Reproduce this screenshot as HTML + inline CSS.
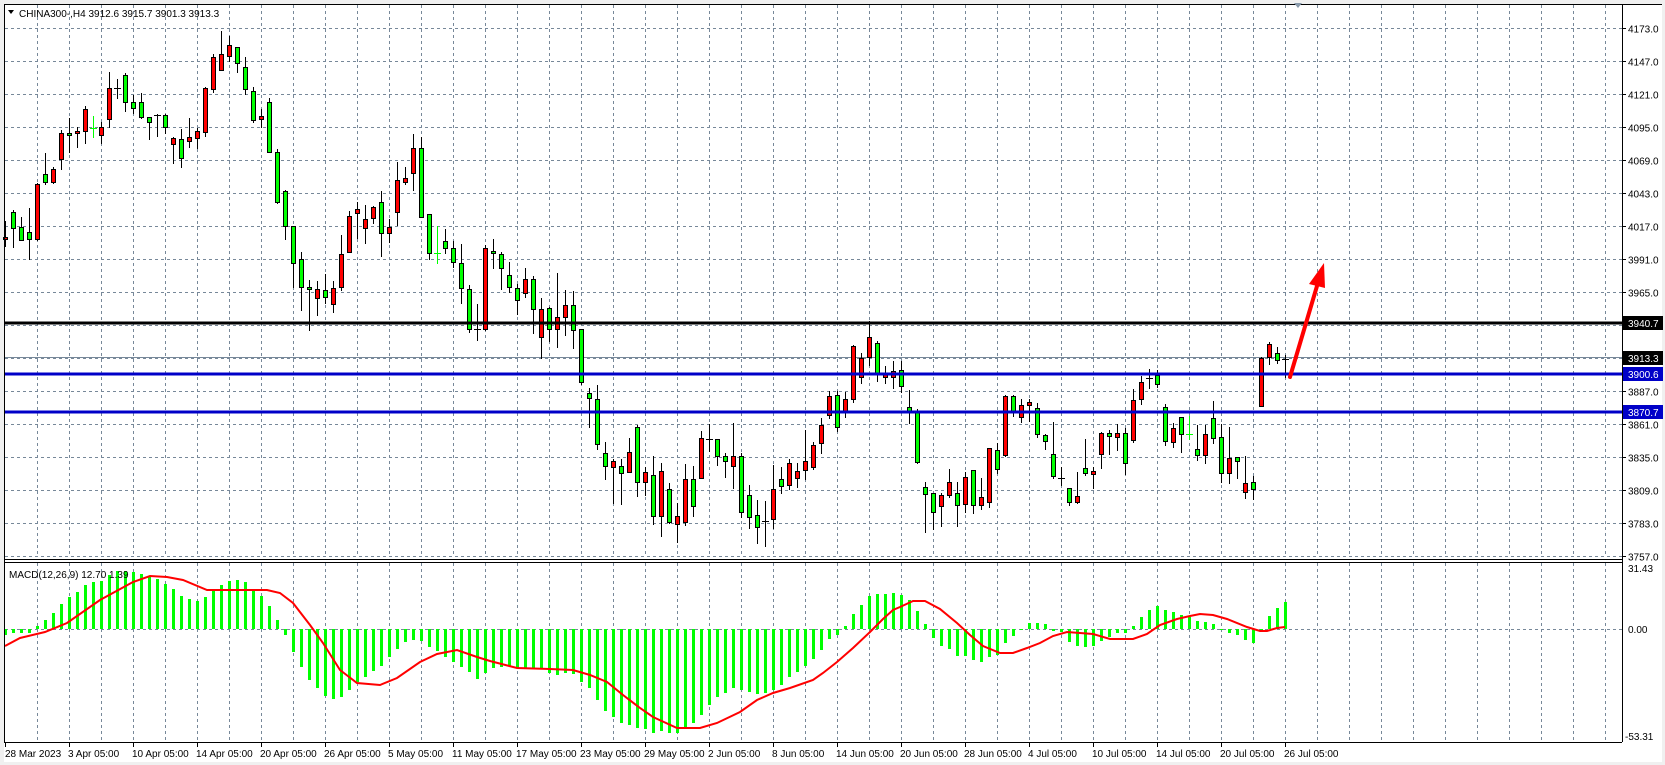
<!DOCTYPE html>
<html><head><meta charset="utf-8"><style>
html,body{margin:0;padding:0;background:#f0f0f0;}
svg{display:block;font-family:"Liberation Sans",sans-serif;}
</style></head><body>
<svg id="s" width="1665" height="765" viewBox="0 0 1665 765" xmlns="http://www.w3.org/2000/svg">
<rect x="0" y="0" width="1665" height="765" fill="#f0f0f0"/>
<rect x="4" y="4" width="1658" height="758" fill="#ffffff"/>
<g id="grid" stroke="#778899" stroke-width="1" stroke-dasharray="3,3" fill="none"></g>
<line x1="4" y1="357.5" x2="1622" y2="357.5" stroke="#778899" stroke-width="1"/>
<g id="candles"></g>
<line x1="4" y1="323" x2="1622" y2="323" stroke="#000" stroke-width="3"/>
<line x1="4" y1="374" x2="1622" y2="374" stroke="#0000c8" stroke-width="3"/>
<line x1="4" y1="412" x2="1622" y2="412" stroke="#0000c8" stroke-width="3"/>
<g id="macd"></g>
<polyline fill="none" stroke="#ff0000" stroke-width="2" points="5,646 20,638 45,632 67,623 100,600 133,582 150,576 167,577 183,580 207,590 233,590 267,590 280,593 293,603 310,625 323,643 340,670 357,683 380,685 397,678 420,662 437,654 457,650 477,657 490,661 517,668 550,669 573,670 590,675 607,682 623,695 640,708 653,717 677,728 700,728 717,723 740,712 757,700 773,693 790,688 813,680 823,673 837,662 853,648 870,632 883,619 893,610 900,607 913,601 925,601 940,609 957,623 970,635 983,646 1000,653 1013,653 1027,648 1040,643 1053,636 1067,632 1080,633 1093,634 1110,639 1133,639 1147,634 1160,625 1177,619 1190,616 1200,614 1213,615 1227,619 1247,627 1260,631 1267,631 1277,628 1285,627"/>
<line x1="1290" y1="377" x2="1317" y2="286" stroke="#ff0000" stroke-width="4" stroke-linecap="round"/>
<polygon points="1324,263 1325,288 1309,284" fill="#ff0000"/>
<g stroke="#000" stroke-width="1" fill="none">
<line x1="4" y1="4.5" x2="1662" y2="4.5"/>
<line x1="4.5" y1="4" x2="4.5" y2="742"/>
<line x1="1622.5" y1="4" x2="1622.5" y2="742"/>
<line x1="4" y1="559.5" x2="1622" y2="559.5"/>
<line x1="4" y1="562.5" x2="1622" y2="562.5"/>
<line x1="4" y1="742.5" x2="1622" y2="742.5"/>
</g>
<polygon points="1294,3 1302,3 1298,8" fill="#8899aa"/>
<polygon points="8,10 14,10 11,14" fill="#000"/>
<text x="19" y="17" font-size="10" fill="#000">CHINA300-,H4  3912.6 3915.7 3901.3 3913.3</text>
<text x="9" y="578" font-size="10" fill="#000">MACD(12,26,9) 12.70 1.39</text>
<g id="axis" font-size="10" fill="#000"></g>
<rect x="1623" y="316" width="40" height="14" fill="#000"/>
<text x="1628" y="327" font-size="10" fill="#fff">3940.7</text>
<rect x="1623" y="351" width="40" height="14" fill="#000"/>
<text x="1628" y="362" font-size="10" fill="#fff">3913.3</text>
<rect x="1623" y="367" width="40" height="14" fill="#0000c8"/>
<text x="1628" y="378" font-size="10" fill="#fff">3900.6</text>
<rect x="1623" y="405" width="40" height="14" fill="#0000c8"/>
<text x="1628" y="416" font-size="10" fill="#fff">3870.7</text>
<g font-size="10" fill="#000">
<text x="1628" y="572">31.43</text>
<text x="1628" y="633">0.00</text>
<text x="1625" y="740">-53.31</text>
</g>
<g font-size="10" fill="#000">
<text x="5" y="757">28 Mar 2023</text>
<text x="68" y="757">3 Apr 05:00</text>
<text x="132" y="757">10 Apr 05:00</text>
<text x="196" y="757">14 Apr 05:00</text>
<text x="260" y="757">20 Apr 05:00</text>
<text x="324" y="757">26 Apr 05:00</text>
<text x="388" y="757">5 May 05:00</text>
<text x="452" y="757">11 May 05:00</text>
<text x="516" y="757">17 May 05:00</text>
<text x="580" y="757">23 May 05:00</text>
<text x="644" y="757">29 May 05:00</text>
<text x="708" y="757">2 Jun 05:00</text>
<text x="772" y="757">8 Jun 05:00</text>
<text x="836" y="757">14 Jun 05:00</text>
<text x="900" y="757">20 Jun 05:00</text>
<text x="964" y="757">28 Jun 05:00</text>
<text x="1028" y="757">4 Jul 05:00</text>
<text x="1092" y="757">10 Jul 05:00</text>
<text x="1156" y="757">14 Jul 05:00</text>
<text x="1220" y="757">20 Jul 05:00</text>
<text x="1284" y="757">26 Jul 05:00</text>
</g>
<g id="ticks" stroke="#000"></g>
</svg>
<script>
var NS="http://www.w3.org/2000/svg";
function el(p,t,a){var e=document.createElementNS(NS,t);for(var k in a)e.setAttribute(k,a[k]);p.appendChild(e);return e;}
var g=document.getElementById('grid');
for(var x=37;x<1622;x+=32){el(g,'line',{x1:x+.5,y1:5,x2:x+.5,y2:556});el(g,'line',{x1:x+.5,y1:563,x2:x+.5,y2:742});}
var ax=document.getElementById('axis');
for(var n=0;n<=16;n++){var y=Math.round(28.3+n*32.97)+.5;el(g,'line',{x1:5,y1:y,x2:1622,y2:y});
 var p=4173-26*n;
 el(ax,'line',{x1:1622,y1:y,x2:1626,y2:y,stroke:'#000'});
 var t=el(ax,'text',{x:1628,y:y+4});t.textContent=p.toFixed(1);}
el(g,'line',{x1:5,y1:629.5,x2:1622,y2:629.5});
var tk=document.getElementById('ticks');
for(var m=0;m<=20;m++){var xx=5+64*m+.5;el(tk,'line',{x1:xx,y1:742,x2:xx,y2:747});}
var D="r 221 237 239 246|g 210 212 228 247|g 217 227 240 240|g 208 232 239 259|r 183 184 239 240|g 153 174 182 184|r 167 169 182 183|r 130 133 159 169|g 118 133 135 152|r 127 131 133 147|r 106 109 131 143|G 116 128 128 137|r 122 127 135 143|r 72 88 119 127|k 79 88 88 98|g 73 75 102 111|g 95 102 108 113|g 93 102 117 118|g 117 117 122 139|k 114 115 115 136|g 114 115 127 133|r 137 138 144 163|g 129 139 158 167|r 118 137 141 147|r 128 131 138 148|r 87 88 132 136|r 54 57 89 92|r 31 54 70 70|r 36 45 56 61|g 47 47 63 72|g 57 67 89 94|g 87 91 120 122|r 109 116 119 127|g 98 102 152 152|g 149 152 202 203|g 190 191 226 239|g 226 226 263 287|g 252 259 287 310|g 280 287 289 330|r 281 289 298 315|g 274 290 297 303|r 281 288 304 312|r 235 254 287 290|r 211 216 252 252|r 202 209 213 238|r 205 219 228 243|r 206 207 218 223|g 191 202 233 256|r 219 227 233 242|r 162 180 212 225|r 167 178 182 184|r 134 148 173 190|g 137 148 217 217|g 214 214 253 259|G 226 253 253 263|g 229 241 248 253|g 241 248 262 267|g 244 263 288 303|g 285 289 329 332|k 304 329 329 340|r 245 248 329 330|g 239 251 253 268|g 252 254 268 289|g 262 275 287 292|g 284 288 300 314|r 268 279 293 297|g 276 279 309 333|r 298 309 337 358|g 307 308 329 341|r 273 317 329 347|r 290 305 317 335|g 291 305 330 348|g 329 329 382 384|g 388 393 398 427|g 385 399 444 449|g 442 453 466 479|r 459 461 467 503|g 459 466 473 504|r 438 452 472 472|g 425 427 482 496|r 467 472 482 495|g 456 475 516 524|r 463 471 516 536|g 483 489 522 523|r 503 516 524 542|r 464 479 522 525|g 466 479 506 516|r 431 438 478 478|k 424 439 439 451|g 439 439 456 465|g 453 456 461 477|r 423 456 466 488|g 453 456 512 517|g 485 495 517 528|g 500 515 527 543|k 501 521 521 546|r 465 489 519 528|g 467 479 486 493|r 459 463 485 489|r 463 471 478 487|r 430 461 470 479|r 442 445 467 469|r 418 425 443 453|r 391 396 415 418|g 391 395 427 431|r 392 399 412 417|r 345 346 399 402|r 353 358 377 383|r 321 337 357 365|g 341 343 374 381|r 366 374 377 383|r 361 371 377 388|g 361 370 386 392|g 390 407 412 423|g 409 412 462 463|g 482 487 494 532|g 493 493 512 529|r 493 495 506 526|r 469 482 495 497|g 482 493 505 526|r 472 477 504 512|g 470 470 505 513|r 478 497 505 509|r 448 448 502 507|g 443 450 469 473|r 395 396 455 456|g 395 396 411 416|r 399 405 417 422|r 399 402 405 421|g 403 408 434 437|g 434 435 441 449|g 422 454 476 478|k 467 478 478 485|g 488 488 502 505|r 472 496 502 503|g 439 468 473 475|r 467 471 474 488|r 432 433 454 468|g 430 433 436 454|r 424 433 437 450|g 428 433 463 474|r 389 400 440 442|r 376 382 399 404|k 369 378 378 388|g 370 375 384 387|g 404 407 441 445|r 423 428 442 447|g 417 417 434 452|G 416 434 434 439|g 425 449 455 460|r 425 434 455 463|g 401 418 438 443|g 424 437 473 482|r 427 458 473 483|g 457 457 461 478|r 456 483 492 498|g 476 482 489 499|r 357 358 406 406|r 342 344 357 364|g 347 353 360 363|k 355 359 359 377".split('|');
var c=document.getElementById('candles');
D.forEach(function(s,i){var a=s.split(' '),t=a[0],wt=+a[1],bt=+a[2],bb=+a[3],wb=+a[4],cx=5+8*i;
 if(t=='G'){el(c,'rect',{x:cx,y:wt,width:1,height:wb-wt+1,fill:'#00ff00'});el(c,'rect',{x:cx-3,y:bt,width:7,height:1,fill:'#00ff00'});return;}
 el(c,'rect',{x:cx,y:wt,width:1,height:wb-wt+1,fill:'#000'});
 if(t=='k'){el(c,'rect',{x:cx-3,y:bt,width:7,height:1,fill:'#000'});return;}
 var h=Math.max(bb-bt,2);
 el(c,'rect',{x:cx-2,y:bt,width:5,height:h+1,fill:'#000'});
 el(c,'rect',{x:cx-1,y:bt+1,width:3,height:h-1,fill:t=='r'?'#ff0000':'#00ff00'});
});
var H=[635,633,633,633,626,620,613,604,597,592,585,582,581,575,571,571,572,574,576,579,584,589,596,599,601,597,591,585,581,580,582,591,596,606,620,635,652,667,680,688,696,699,697,690,682,677,671,666,657,649,642,640,641,647,651,657,662,667,672,679,673,668,667,666,668,668,668,669,673,675,673,674,682,688,700,711,717,723,725,728,729,733,731,733,733,727,723,715,705,697,693,688,690,692,694,693,690,685,677,672,666,659,650,639,635,626,614,605,596,594,594,593,595,600,611,624,638,646,649,656,656,660,662,657,655,643,636,629,623,623,624,631,632,642,646,647,646,641,637,633,633,626,617,610,606,610,612,615,617,621,622,624,629,633,635,640,643,629,616,608,602];
var mg=document.getElementById('macd');
H.forEach(function(v,i){var cx=5+8*i,z=629;var y0=Math.min(v,z),h=Math.abs(v-z);if(h<1)h=1;el(mg,'rect',{x:cx-1,y:y0,width:3,height:h,fill:'#00ff00'});});
</script>
</body></html>
